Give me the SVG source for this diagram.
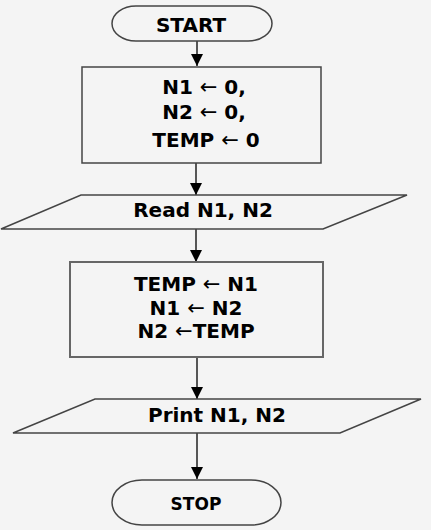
<svg xmlns="http://www.w3.org/2000/svg" width="431" height="530" viewBox="0 0 431 530">
<style>
text{font-family:"DejaVu Sans","Liberation Sans",sans-serif;font-weight:bold;font-size:20px;fill:#000;text-anchor:middle}
.ar{font-weight:normal;font-size:21px}
.shape{fill:#f4f4f4;stroke:#444;stroke-width:1.5}
.conn{stroke:#222;stroke-width:1.5;fill:none;marker-end:url(#ah)}
</style>
<defs>
<marker id="ah" markerWidth="12" markerHeight="14" refX="12" refY="7" orient="auto" markerUnits="userSpaceOnUse">
<path d="M0,1 L12,7 L0,13 Z" fill="#000"/>
</marker>
</defs>
<rect width="431" height="530" fill="#f4f4f4"/>
<g id="connectors">
<line class="conn" x1="197" y1="41" x2="197" y2="66"/>
<line class="conn" x1="196" y1="163" x2="196" y2="195"/>
<line class="conn" x1="196" y1="229" x2="196" y2="262"/>
<line class="conn" x1="197" y1="357" x2="197" y2="399"/>
<line class="conn" x1="197" y1="433" x2="197" y2="479"/>
</g>
<g id="start">
<rect class="shape" x="112" y="6" width="160" height="35" rx="24" ry="17.5"/>
<text x="191" y="32">START</text>
</g>
<g id="init">
<rect class="shape" x="82" y="67" width="239" height="96"/>
<text x="204" y="94">N1 <tspan class="ar">←</tspan> 0,</text>
<text x="204" y="119">N2 <tspan class="ar">←</tspan> 0,</text>
<text x="206" y="147">TEMP <tspan class="ar">←</tspan> 0</text>
</g>
<g id="read">
<polygon class="shape" points="81,195 407,195 323,229 1,229"/>
<text x="203" y="217">Read N1, N2</text>
</g>
<g id="swap">
<rect class="shape" x="70" y="262" width="253" height="95" style="stroke:#666;stroke-width:2"/>
<text x="196" y="291">TEMP <tspan class="ar">←</tspan> N1</text>
<text x="196" y="315">N1 <tspan class="ar">←</tspan> N2</text>
<text x="196" y="338">N2 <tspan class="ar">←</tspan>TEMP</text>
</g>
<g id="print">
<polygon class="shape" points="95,399 421,399 340,433 13,433"/>
<text x="217" y="422">Print N1, N2</text>
</g>
<g id="stop">
<rect class="shape" x="112" y="480" width="169" height="45" rx="30" ry="22.5"/>
<text x="196" y="510" style="font-size:17px">STOP</text>
</g>
</svg>
